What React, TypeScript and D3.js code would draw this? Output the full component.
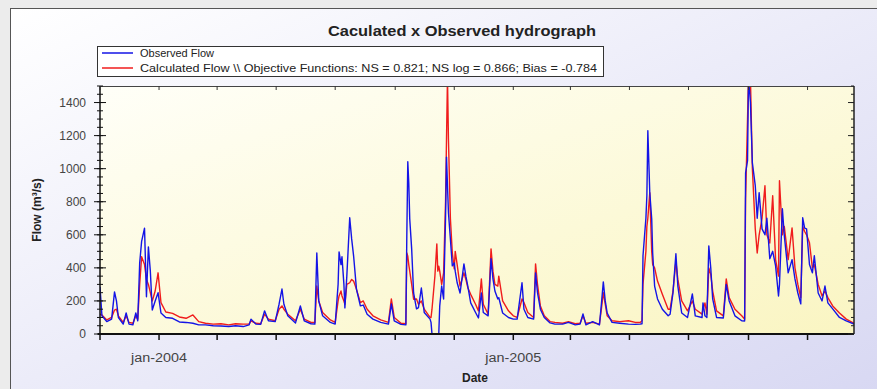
import React from 'react';
import * as d3 from 'd3';

const dates = [
  '2003-11-01', '2003-11-03', '2003-11-08', '2003-11-13', '2003-11-16', '2003-11-18', '2003-11-20', '2003-11-25', '2003-11-28', '2003-12-01',
  '2003-12-05', '2003-12-08', '2003-12-10', '2003-12-12', '2003-12-14', '2003-12-17', '2003-12-19', '2003-12-21', '2003-12-23', '2003-12-25',
  '2003-12-28', '2003-12-31', '2004-01-03', '2004-01-08', '2004-01-15', '2004-01-22', '2004-01-29', '2004-02-05', '2004-02-11', '2004-02-18',
  '2004-02-26', '2004-03-05', '2004-03-13', '2004-03-20', '2004-03-28', '2004-04-03', '2004-04-05', '2004-04-10', '2004-04-15', '2004-04-19',
  '2004-04-23', '2004-04-30', '2004-05-04', '2004-05-07', '2004-05-09', '2004-05-13', '2004-05-21', '2004-05-26', '2004-05-30', '2004-06-06',
  '2004-06-10', '2004-06-12', '2004-06-14', '2004-06-18', '2004-06-26', '2004-07-01', '2004-07-04', '2004-07-05', '2004-07-07', '2004-07-08',
  '2004-07-10', '2004-07-11', '2004-07-13', '2004-07-16', '2004-07-18', '2004-07-20', '2004-07-23', '2004-07-27', '2004-07-30', '2004-08-03',
  '2004-08-09', '2004-08-17', '2004-08-25', '2004-08-28', '2004-08-31', '2004-09-07', '2004-09-12', '2004-09-13', '2004-09-14', '2004-09-15',
  '2004-09-16', '2004-09-18', '2004-09-20', '2004-09-23', '2004-09-25', '2004-09-28', '2004-10-01', '2004-10-07', '2004-10-08', '2004-10-09',
  '2004-10-12', '2004-10-14', '2004-10-15', '2004-10-16', '2004-10-17', '2004-10-19', '2004-10-21', '2004-10-23', '2004-10-24', '2004-10-25',
  '2004-10-26', '2004-10-28', '2004-10-30', '2004-11-01', '2004-11-02', '2004-11-04', '2004-11-07', '2004-11-11', '2004-11-13', '2004-11-15',
  '2004-11-18', '2004-11-23', '2004-11-26', '2004-11-29', '2004-12-01', '2004-12-06', '2004-12-09', '2004-12-11', '2004-12-13', '2004-12-16',
  '2004-12-17', '2004-12-21', '2004-12-27', '2005-01-01', '2005-01-05', '2005-01-10', '2005-01-12', '2005-01-16', '2005-01-22', '2005-01-24',
  '2005-01-26', '2005-01-29', '2005-02-02', '2005-02-08', '2005-02-13', '2005-02-21', '2005-02-27', '2005-03-06', '2005-03-11', '2005-03-14',
  '2005-03-17', '2005-03-24', '2005-03-31', '2005-04-02', '2005-04-04', '2005-04-06', '2005-04-08', '2005-04-13', '2005-04-21', '2005-04-30',
  '2005-05-07', '2005-05-12', '2005-05-14', '2005-05-15', '2005-05-18', '2005-05-19', '2005-05-20', '2005-05-22', '2005-05-24', '2005-05-25',
  '2005-05-27', '2005-05-30', '2005-06-04', '2005-06-10', '2005-06-12', '2005-06-15', '2005-06-18', '2005-06-20', '2005-06-24', '2005-06-30',
  '2005-07-05', '2005-07-08', '2005-07-15', '2005-07-16', '2005-07-18', '2005-07-20', '2005-07-22', '2005-07-24', '2005-07-26', '2005-07-30',
  '2005-08-06', '2005-08-09', '2005-08-12', '2005-08-18', '2005-08-25', '2005-08-28', '2005-08-29', '2005-08-31', '2005-09-01', '2005-09-03',
  '2005-09-05', '2005-09-08', '2005-09-10', '2005-09-12', '2005-09-15', '2005-09-18', '2005-09-20', '2005-09-23', '2005-09-26', '2005-09-29',
  '2005-10-02', '2005-10-03', '2005-10-06', '2005-10-08', '2005-10-12', '2005-10-16', '2005-10-19', '2005-10-22', '2005-10-25', '2005-10-27',
  '2005-10-29', '2005-10-31', '2005-11-03', '2005-11-06', '2005-11-08', '2005-11-12', '2005-11-16', '2005-11-19', '2005-11-22', '2005-11-27',
  '2005-12-04', '2005-12-11', '2005-12-19'
];

const observed = [
  285, 110, 75, 90, 255, 200, 100, 60, 127, 60,
  55, 127, 80, 430, 560, 640, 225, 527, 380, 145,
  200, 250, 127, 100, 95, 73, 70, 65, 55, 55,
  50, 48, 45, 50, 45, 55, 90, 60, 58, 140,
  80, 75, 180, 272, 180, 110, 67, 170, 80, 62,
  60, 490, 200, 110, 70, 60, 300, 497, 420, 467,
  300, 158, 350, 703, 575, 473, 270, 170, 175, 120,
  90, 70, 60, 182, 80, 58, 55, 600, 1042, 915,
  697, 515, 248, 152, 160, 278, 130, 90, 70, 0,
  0, 0, 0, 0, 170, 290, 212, 700, 1070, 900,
  733, 575, 412, 430, 380, 310, 248, 424, 350, 290,
  188, 130, 97, 248, 130, 110, 455, 333, 260, 212,
  220, 127, 100, 90, 90, 310, 150, 100, 90, 370,
  250, 150, 100, 67, 60, 60, 70, 55, 60, 121,
  55, 75, 55, 180, 315, 200, 127, 70, 65, 60,
  58, 60, 62, 473, 700, 836, 1230, 855, 697, 490,
  290, 212, 150, 110, 120, 250, 485, 290, 127, 100,
  242, 110, 100, 188, 110, 100, 533, 400, 212, 100,
  97, 300, 200, 110, 80, 79, 975, 1048, 1550, 1400,
  1036, 897, 700, 855, 636, 600, 700, 455, 500, 412,
  230, 300, 758, 594, 370, 450, 333, 248, 182, 703,
  640, 636, 420, 370, 473, 248, 200, 290, 188, 152,
  100, 79, 60
];

const calculated = [
  120, 115, 85, 100, 145, 150, 110, 70, 110, 70,
  65, 110, 90, 300, 467, 420, 330, 300, 250, 200,
  260, 370, 190, 133, 125, 103, 95, 115, 75, 65,
  60, 62, 55, 62, 60, 60, 80, 65, 62, 120,
  90, 80, 150, 170, 150, 120, 80, 150, 90, 70,
  70, 290, 200, 130, 85, 70, 200, 230, 260, 230,
  200, 180, 300, 310, 330, 320, 270, 190, 200, 150,
  110, 85, 70, 212, 100, 65, 62, 490, 470, 420,
  380, 300, 210, 212, 180, 200, 150, 100, 100, 150,
  350, 545, 380, 410, 380, 300, 370, 800, 1180, 1550,
  1180, 700, 490, 394, 500, 420, 290, 370, 330, 280,
  240, 180, 140, 333, 180, 120, 515, 380, 300, 290,
  350, 200, 140, 110, 100, 212, 190, 130, 100, 424,
  300, 170, 110, 75, 70, 65, 75, 62, 65, 110,
  65, 70, 60, 150, 250, 180, 110, 80, 75, 80,
  70, 70, 80, 300, 500, 650, 700, 855, 500, 420,
  400, 320, 240, 150, 150, 260, 440, 330, 200, 140,
  200, 150, 120, 150, 188, 120, 400, 360, 260, 140,
  110, 333, 220, 150, 110, 90, 818, 1300, 1550, 1550,
  1000, 636, 490, 600, 700, 897, 600, 550, 836, 450,
  350, 927, 600, 650, 450, 642, 400, 300, 220, 650,
  620, 600, 552, 400, 420, 300, 230, 260, 220, 170,
  127, 90, 65
];

const dateRange = ['2003-11-01', '2005-12-19'];
const flowRange = [0, 1500];
const yTicks = [0, 200, 400, 600, 800, 1000, 1200, 1400];
const xLabelDates = ['2004-01-01', '2005-01-01'];
const xTickLabels = ['jan-2004', 'jan-2005'];
const seriesNames = [
  'Observed Flow',
  'Calculated Flow \\\\ Objective Functions: NS = 0.821; NS log = 0.866; Bias = -0.784'
];

const W = 877;
const H = 389;
const plot = { left: 100, right: 854, top: 86, bottom: 334 };
const BLUE = '#1414e6';
const RED = '#f01c1c';
const FONT = '"Liberation Sans", Arial, sans-serif';

export default function App() {
  const parse = d3.timeParse('%Y-%m-%d');
  const days = dates.map(d => parse(d));

  const x = d3.scaleTime()
    .domain(dateRange.map(d => parse(d)))
    .range([plot.left, plot.right]);
  const y = d3.scaleLinear()
    .domain(flowRange)
    .range([plot.bottom, plot.top]);

  const line = d3.line()
    .x((d, i) => x(days[i]))
    .y(d => y(d));

  const monthTicks = x.ticks(d3.timeMonth.every(2));
  const minorY = y.ticks(30);

  return (
    <div style={{ position: 'absolute', left: 0, top: 0 }}>
      <svg width={W} height={H} style={{ display: 'block', fontFamily: FONT }}>
        <defs>
          <linearGradient id="panelBg" x1="0" y1="0" x2="1" y2="1">
            <stop offset="0" stopColor="#ffffff" />
            <stop offset="1" stopColor="#d6d6f2" />
          </linearGradient>
          <linearGradient id="plotBg" x1="0" y1="0" x2="1" y2="1">
            <stop offset="0" stopColor="#fffff8" />
            <stop offset="1" stopColor="#faf5c2" />
          </linearGradient>
          <clipPath id="plotClip">
            <rect x={plot.left} y={plot.top} width={plot.right - plot.left} height={plot.bottom - plot.top} />
          </clipPath>
        </defs>

        <rect x={0} y={0} width={W} height={H} fill="#ececec" />
        <rect x={10.5} y={8.5} width={W + 20} height={H + 20} fill="url(#panelBg)" stroke="#555" />

        <text x={462} y={36} textAnchor="middle" fontSize={14.5} fontWeight="bold" fill="#222"
          textLength={268} lengthAdjust="spacingAndGlyphs">
          Caculated x Observed hydrograph
        </text>

        {/* legend */}
        <rect x={97.5} y={46.5} width={506} height={30} fill="#fff" stroke="#333" />
        <line x1={102} x2={133} y1={53} y2={53} stroke={BLUE} strokeWidth={1.5} />
        <line x1={102} x2={133} y1={68} y2={68} stroke={RED} strokeWidth={1.5} />
        <text x={140} y={57} fontSize={11} fill="#222" textLength={74} lengthAdjust="spacingAndGlyphs">{seriesNames[0]}</text>
        <text x={140} y={72} fontSize={11} fill="#222" textLength={457} lengthAdjust="spacingAndGlyphs">{seriesNames[1]}</text>

        {/* plot area */}
        <rect x={plot.left} y={plot.top} width={plot.right - plot.left} height={plot.bottom - plot.top} fill="url(#plotBg)" />

        <g clipPath="url(#plotClip)" fill="none" strokeWidth={1.4} strokeLinejoin="round">
          <path d={line(calculated)} stroke={RED} />
          <path d={line(observed)} stroke={BLUE} />
        </g>

        {/* frame */}
        <line x1={plot.left} x2={plot.right} y1={plot.top + 0.5} y2={plot.top + 0.5} stroke="#444" />
        <line x1={plot.right} x2={plot.right} y1={plot.top} y2={plot.bottom} stroke="#222" strokeWidth={1.5} />
        <line x1={plot.left} x2={plot.left} y1={plot.top} y2={plot.bottom + 1} stroke="#111" strokeWidth={1.5} />
        <line x1={plot.left - 2} x2={plot.right} y1={plot.bottom} y2={plot.bottom} stroke="#111" strokeWidth={2} />

        {/* y ticks */}
        {minorY.map(v => (
          <g key={'my' + v}>
            <line x1={plot.left - 3} x2={plot.left + 3} y1={y(v)} y2={y(v)} stroke="#111" />
            <line x1={plot.right - 3} x2={plot.right} y1={y(v)} y2={y(v)} stroke="#222" />
          </g>
        ))}
        {yTicks.map(v => (
          <g key={'y' + v}>
            <line x1={plot.left - 6} x2={plot.left + 6} y1={y(v)} y2={y(v)} stroke="#111" />
            <line x1={plot.right - 6} x2={plot.right} y1={y(v)} y2={y(v)} stroke="#222" />
            <text x={plot.left - 14} y={y(v)} dy="0.35em" textAnchor="end" fontSize={12} fill="#444">{v}</text>
          </g>
        ))}

        {/* x ticks */}
        {monthTicks.map(t => (
          <g key={'x' + t.getTime()}>
            <line x1={x(t)} x2={x(t)} y1={plot.bottom} y2={plot.bottom + 6} stroke="#111" strokeWidth={1.5} />
            <line x1={x(t)} x2={x(t)} y1={plot.top} y2={plot.top + 4} stroke="#333" />
          </g>
        ))}
        {xLabelDates.map((d, i) => (
          <text key={d} x={x(parse(d))} y={362} textAnchor="middle" fontSize={12} fill="#444"
            textLength={56} lengthAdjust="spacingAndGlyphs">{xTickLabels[i]}</text>
        ))}

        <text x={475} y={382} textAnchor="middle" fontSize={12} fontWeight="bold" fill="#222">Date</text>
        <text transform={`translate(41,${(plot.top + plot.bottom) / 2}) rotate(-90)`} textAnchor="middle" fontSize={12} fontWeight="bold" fill="#222">
          Flow (m³/s)
        </text>
      </svg>
    </div>
  );
}
